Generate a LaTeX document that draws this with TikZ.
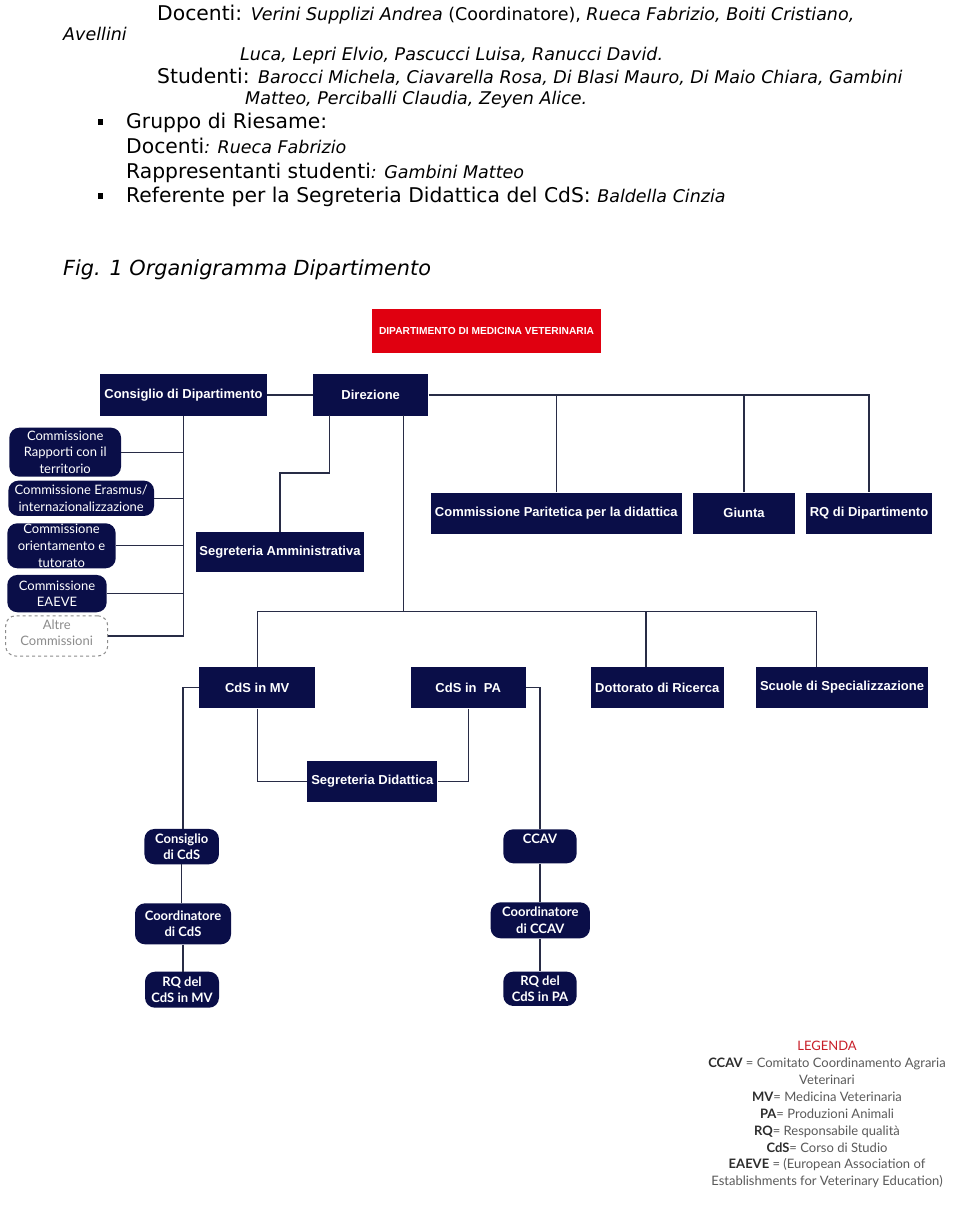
\documentclass[tikz,border=0pt]{standalone}
\usepackage{fontspec}
\setmainfont{DejaVu Sans}
\newfontfamily\djv{DejaVu Sans}
\newfontfamily\arl{Liberation Sans}
\newfontfamily\lato{Lato}
\definecolor{navy}{RGB}{10,14,72}
\definecolor{redbox}{RGB}{224,0,16}
\definecolor{linec}{RGB}{40,44,70}
\definecolor{leggray}{RGB}{90,90,90}
\definecolor{legdark}{RGB}{45,45,45}
\definecolor{legred}{RGB}{200,30,40}
\definecolor{altregray}{RGB}{140,140,140}
\newcommand{\bigtx}{\djv\fontsize{20.3}{24}\selectfont}
\newcommand{\smltx}{\djv\fontsize{17.5}{20}\selectfont}
\tikzset{
  txt/.style={anchor=base west, inner sep=0pt, text=black},
  navybox/.style={rectangle, fill=navy, text=white, inner sep=0pt,
    font=\arl\bfseries\fontsize{13}{15}\selectfont},
  redtitle/.style={rectangle, fill=redbox, text=white, inner sep=0pt,
    font=\arl\bfseries\fontsize{10.2}{12}\selectfont},
  rbox/.style={rectangle, rounded corners=10pt, fill=navy, inner sep=0pt},
  rtext/.style={text=white, align=center, inner sep=0pt,
    font=\lato\fontsize{13}{16.7}\selectfont},
  rbtext/.style={text=white, align=center, inner sep=0pt,
    font=\lato\bfseries\fontsize{13}{16.7}\selectfont},
  dbox/.style={rectangle, rounded corners=10pt, fill=white, draw=altregray,
    dashed, line width=1pt, inner sep=0pt},
  dtext/.style={text=altregray, align=center, inner sep=0pt,
    font=\lato\fontsize{13}{16.7}\selectfont},
  conn/.style={draw=linec, line width=1.3pt},
}
\begin{document}
\begin{tikzpicture}[x=1pt,y=-1pt]
\useasboundingbox[fill=white] (0,0) rectangle (960,1229);

% ---------- top text ----------
\node[txt] (t1) at (157,20) {\bigtx Docenti: \smltx\itshape Verini Supplizi Andrea \upshape(Coordinatore), \itshape Rueca Fabrizio, Boiti Cristiano,};
\node[txt] (t2) at (63,40) {\smltx\itshape Avellini};
\node[txt] (t3) at (240,60) {\smltx\itshape Luca, Lepri Elvio, Pascucci Luisa, Ranucci David.};
\node[txt] (t4) at (157,83) {\bigtx Studenti: \smltx\itshape Barocci Michela, Ciavarella Rosa, Di Blasi Mauro, Di Maio Chiara, Gambini};
\node[txt] (t5) at (245,104) {\smltx\itshape Matteo, Perciballi Claudia, Zeyen Alice.};
\fill (98,119) rectangle (103,125);
\node[txt] (t6) at (126,128) {\bigtx Gruppo di Riesame:};
\node[txt] (t7) at (126,153) {\bigtx Docenti\smltx\itshape: Rueca Fabrizio};
\node[txt] (t8) at (126,178) {\bigtx Rappresentanti studenti\smltx\itshape: Gambini Matteo};
\fill (98,193) rectangle (103,199);
\node[txt] (t9) at (126,202) {\bigtx Referente per la Segreteria Didattica del CdS: \smltx\itshape Baldella Cinzia};
\node[txt] (cap) at (63,275) {\djv\fontsize{20.8}{24}\selectfont\itshape Fig. 1 Organigramma Dipartimento};

% ---------- main boxes ----------
\node[redtitle, minimum width=228.4, minimum height=44.3] (dip) at (486.5,331.2) {DIPARTIMENTO DI MEDICINA VETERINARIA};
\node[navybox, minimum width=167, minimum height=41.5] (consiglio) at (183.5,395) {Consiglio di Dipartimento};
\node[navybox, minimum width=115.5, minimum height=41.5] (direzione) at (370.7,395) {Direzione};
\node[navybox, minimum width=250.5, minimum height=41.3] (paritetica) at (556.3,513.3) {Commissione Paritetica per la didattica};
\node[navybox, minimum width=102, minimum height=41.3] (giunta) at (744,513.3) {Giunta};
\node[navybox, minimum width=126.6, minimum height=41.3] (rqdip) at (869,513.3) {RQ di Dipartimento};
\node[navybox, minimum width=168.6, minimum height=40.6] (segamm) at (280,552) {Segreteria Amministrativa};
\node[navybox, minimum width=115.7, minimum height=41.6] (cdsmv) at (257.2,687.5) {CdS in MV};
\node[navybox, minimum width=115, minimum height=41.6] (cdspa) at (468.2,687.5) {CdS in\ \ PA};
\node[navybox, minimum width=133.3, minimum height=41] (dottorato) at (657.3,687.5) {Dottorato di Ricerca};
\node[navybox, minimum width=172, minimum height=41] (scuole) at (842,687.5) {Scuole di Specializzazione};
\node[navybox, minimum width=130, minimum height=41.6] (segdid) at (372.3,781.5) {Segreteria Didattica};

% ---------- commissions ----------
\node[rbox, minimum width=111.7, minimum height=49, label={[rtext]center:{Commissione\\Rapporti con il\\territorio}}] (rapporti) at (65.2,452.2) {};
\node[rbox, minimum width=145.7, minimum height=35.3, label={[rtext]center:{Commissione Erasmus/\\internazionalizzazione}}] (erasmus) at (81.2,498.3) {};
\node[rbox, minimum width=108.4, minimum height=45, label={[rtext]center:{Commissione\\orientamento e\\tutorato}}] (orient) at (61.5,545.8) {};
\node[rbox, minimum width=99.4, minimum height=37.3, label={[rtext]center:{Commissione\\EAEVE}}] (eaeve) at (57,593.6) {};
\node[dbox, minimum width=102, minimum height=40.3, label={[dtext,yshift=3pt]center:{Altre\\Commissioni}}] (altre) at (56.7,635.9) {};

% ---------- CdS sub-boxes ----------
\node[rbox, minimum width=74.5, minimum height=35.3, label={[rbtext]center:{Consiglio\\di CdS}}] (conscds) at (181.7,846.6) {};
\node[rbox, minimum width=96, minimum height=41, label={[rbtext]center:{Coordinatore\\di CdS}}] (coordcds) at (183,923.8) {};
\node[rbox, minimum width=74, minimum height=36, label={[rbtext]center:{RQ del\\CdS in MV}}] (rqmv) at (182,989.7) {};
\node[rbox, minimum width=73.4, minimum height=34, label={[rbtext,yshift=8pt]center:{CCAV}}] (ccav) at (540,846.3) {};
\node[rbox, minimum width=99.3, minimum height=36, label={[rbtext]center:{Coordinatore\\di CCAV}}] (coordccav) at (540.3,920.3) {};
\node[rbox, minimum width=73.4, minimum height=34.3, label={[rbtext]center:{RQ del\\CdS in PA}}] (rqpa) at (540,988.8) {};

% ---------- connectors ----------
\coordinate (segdrop) at (329.3,415);
\coordinate (hubtop) at (403.3,415);
\coordinate (hub) at (403.3,611.7);
\coordinate (dotdrop) at (646,611.7);
\coordinate (scudrop) at (816.7,611.7);

\draw[conn] (consiglio.east) -- (direzione.west);
\draw[conn] (direzione.east) -| (rqdip.north);
\draw[conn] (paritetica.north) -- (paritetica.north |- direzione.east);
\draw[conn] (giunta.north) -- (giunta.north |- direzione.east);
\draw[conn] (segdrop) -- ++(0,58) -| (segamm.north);
\draw[conn] (hubtop) -- (hub);
\draw[conn] (cdsmv.north) |- (scudrop) -- (scudrop |- scuole.north);
\draw[conn] (dotdrop) -- (dotdrop |- dottorato.north);

\draw[conn] (consiglio.south) |- (altre.east);
\draw[conn] (rapporti.east) -- (rapporti.east -| consiglio.south);
\draw[conn] (erasmus.east) -- (erasmus.east -| consiglio.south);
\draw[conn] (orient.east) -- (orient.east -| consiglio.south);
\draw[conn] (eaeve.east) -- (eaeve.east -| consiglio.south);

\draw[conn] (cdsmv.south) |- (segdid.west);
\draw[conn] (cdspa.south) |- (segdid.east);
\draw[conn] (cdsmv.west) -| (coordcds.north |- conscds.north);
\draw[conn] (conscds.south) -- (conscds.south |- coordcds.north);
\draw[conn] (coordcds.south) -- (coordcds.south |- rqmv.north);
\draw[conn] (cdspa.east) -| (ccav.north);
\draw[conn] (ccav.south) -- (coordccav.north -| ccav.south);
\draw[conn] (coordccav.south -| ccav.south) -- (rqpa.north);

% ---------- legend ----------
\node[anchor=north, align=center, inner sep=0pt, text=leggray,
  font=\lato\fontsize{13}{16.9}\selectfont] (legend) at (827,1041)
  {\textcolor{legred}{LEGENDA}\\
   \textcolor{legdark}{\bfseries CCAV} = Comitato Coordinamento Agraria\\
   Veterinari\\
   \textcolor{legdark}{\bfseries MV}= Medicina Veterinaria\\
   \textcolor{legdark}{\bfseries PA}= Produzioni Animali\\
   \textcolor{legdark}{\bfseries RQ}= Responsabile qualità\\
   \textcolor{legdark}{\bfseries CdS}= Corso di Studio\\
   \textcolor{legdark}{\bfseries EAEVE} = (European Association of\\
   Establishments for Veterinary Education)};
\end{tikzpicture}
\end{document}
